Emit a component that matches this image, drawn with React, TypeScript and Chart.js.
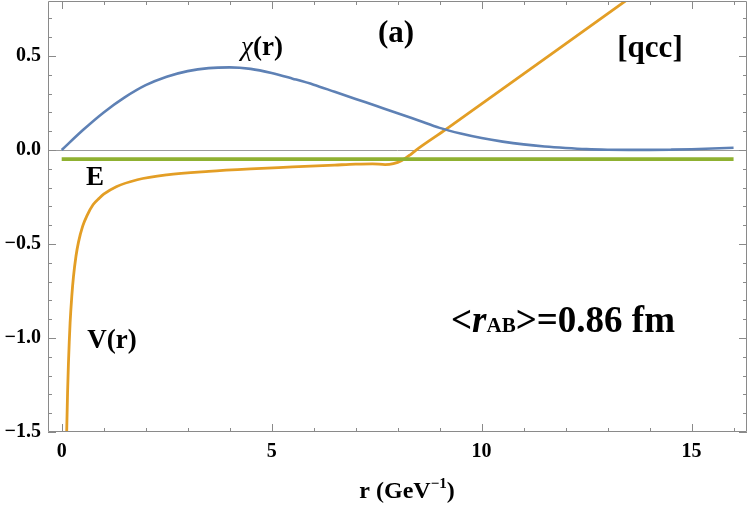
import React, { useEffect, useRef } from 'react';
import { Chart, registerables } from 'chart.js';

Chart.register(...registerables);

// chi(r) wave function
const CHI_R = [0, 0.5, 1, 1.5, 2, 2.5, 3, 3.5, 4, 4.5, 5, 5.5, 6, 6.5, 7, 7.5, 8, 8.5, 9, 9.5, 10, 10.5, 11, 11.5, 12, 12.5, 13, 13.5, 14, 14.5, 15, 15.5, 16];
const CHI_VAL = [0, 0.105, 0.2, 0.28, 0.345, 0.39, 0.42, 0.436, 0.44, 0.432, 0.41, 0.38, 0.348, 0.31, 0.272, 0.234, 0.196, 0.157, 0.118, 0.088, 0.064, 0.045, 0.03, 0.019, 0.011, 0.005, 0.002, 0.001, 0.001, 0.002, 0.004, 0.008, 0.012];

// V(r) potential
const V_R = [0.11, 0.12, 0.14, 0.16, 0.18, 0.2, 0.24, 0.28, 0.34, 0.4, 0.5, 0.6, 0.75, 0.9, 1.0, 1.3, 1.8, 2.5, 3.5, 4.5, 5.5, 6.5, 7.0, 7.4, 7.7, 7.9, 8.1, 8.3, 8.44, 9.15, 10.1, 13.5, 14];
const V_VAL = [-1.6, -1.49, -1.29, -1.14, -1.02, -0.92, -0.78, -0.675, -0.565, -0.49, -0.405, -0.35, -0.29, -0.255, -0.235, -0.195, -0.158, -0.132, -0.113, -0.1, -0.09, -0.08, -0.075, -0.073, -0.077, -0.072, -0.055, -0.025, 0, 0.11, 0.262, 0.805, 0.885];

// energy level E
const E_R = [0, 16];
const E_VAL = [-0.048, -0.048];

const X_MAJOR = [0, 5, 10, 15];
const X_MINOR = [0, 1, 2, 3, 4, 5, 6, 7, 8, 9, 10, 11, 12, 13, 14, 15, 16];
const Y_MAJOR = [-1.5, -1.0, -0.5, 0.0, 0.5];
const Y_MINOR = [-1.5, -1.4, -1.3, -1.2, -1.1, -1.0, -0.9, -0.8, -0.7, -0.6, -0.5, -0.4, -0.3, -0.2, -0.1, 0.0, 0.1, 0.2, 0.3, 0.4, 0.5, 0.6, 0.7];

const X_MIN = -0.326;
const X_MAX = 16.32;
const Y_MIN = -1.5;
const Y_MAX = 0.793;

const SERIF = '"Liberation Serif", "DejaVu Serif", serif';
const FRAME = '#8a8a8a';

const toPts = (xs: number[], ys: number[]) => xs.map((x, i) => ({ x, y: ys[i] }));

const framePlugin = {
  id: 'frameTicks',
  afterDatasetsDraw(chart: any) {
    const { ctx, chartArea: a, scales } = chart;
    const xs = scales.x;
    const ys = scales.y;
    ctx.save();
    ctx.strokeStyle = FRAME;
    ctx.lineWidth = 1;
    ctx.beginPath();
    ctx.rect(Math.round(a.left) + 0.5, Math.round(a.top) + 0.5, Math.round(a.right - a.left) - 1, Math.round(a.bottom - a.top) - 1);
    ctx.stroke();
    ctx.beginPath();
    X_MINOR.forEach((v) => {
      const px = Math.round(xs.getPixelForValue(v)) + 0.5;
      const len = X_MAJOR.includes(v) ? 8 : 4;
      ctx.moveTo(px, a.bottom);
      ctx.lineTo(px, a.bottom - len);
      ctx.moveTo(px, a.top);
      ctx.lineTo(px, a.top + len);
    });
    Y_MINOR.forEach((v) => {
      const py = Math.round(ys.getPixelForValue(v)) + 0.5;
      const len = Y_MAJOR.some((m) => Math.abs(m - v) < 1e-9) ? 8 : 4;
      ctx.moveTo(a.left, py);
      ctx.lineTo(a.left + len, py);
      ctx.moveTo(a.right, py);
      ctx.lineTo(a.right - len, py);
    });
    ctx.stroke();
    ctx.restore();
  },
};

const textPlugin = {
  id: 'annotations',
  afterDraw(chart: any) {
    const { ctx } = chart;
    ctx.save();
    ctx.fillStyle = '#000';
    ctx.textBaseline = 'alphabetic';

    const seq = (parts: { t: string; f: string; dy?: number }[], cx: number, by: number) => {
      let w = 0;
      parts.forEach((p) => { ctx.font = p.f; w += ctx.measureText(p.t).width; });
      let x = cx - w / 2;
      ctx.textAlign = 'left';
      parts.forEach((p) => {
        ctx.font = p.f;
        ctx.fillText(p.t, x, by + (p.dy || 0));
        x += ctx.measureText(p.t).width;
      });
    };

    seq([{ t: '(a)', f: `bold 31px ${SERIF}` }], 396, 42);
    seq([{ t: '[qcc]', f: `bold 31px ${SERIF}` }], 650, 57);
    seq([
      { t: 'χ', f: `italic 27px ${SERIF}` },
      { t: '(r)', f: `bold 27px ${SERIF}` },
    ], 262, 55);
    seq([{ t: 'E', f: `bold 27px ${SERIF}` }], 95, 185);
    seq([{ t: 'V(r)', f: `bold 27px ${SERIF}` }], 112, 348);
    seq([
      { t: '<', f: `bold 37px ${SERIF}` },
      { t: 'r', f: `italic bold 37px ${SERIF}` },
      { t: 'AB', f: `bold 21px ${SERIF}` },
      { t: '>=0.86 fm', f: `bold 37px ${SERIF}` },
    ], 563, 332);
    seq([
      { t: 'r (GeV', f: `bold 24px ${SERIF}` },
      { t: '−1', f: `bold 15px ${SERIF}`, dy: -10 },
      { t: ')', f: `bold 24px ${SERIF}` },
    ], 407, 498);
    ctx.restore();
  },
};

export default function App() {
  const ref = useRef<HTMLCanvasElement | null>(null);

  useEffect(() => {
    document.body.style.margin = '0';
    if (!ref.current) return;
    const chart = new Chart(ref.current, {
      type: 'line',
      data: {
        datasets: [
          {
            label: 'chi(r)',
            data: toPts(CHI_R, CHI_VAL),
            borderColor: '#5E81B5',
            borderWidth: 2.6,
            pointRadius: 0,
            cubicInterpolationMode: 'monotone',
            fill: false,
          },
          {
            label: 'E',
            data: toPts(E_R, E_VAL),
            borderColor: '#8FB131',
            borderWidth: 3.6,
            pointRadius: 0,
            fill: false,
          },
          {
            label: 'V(r)',
            data: toPts(V_R, V_VAL),
            borderColor: '#E39E25',
            borderWidth: 2.8,
            pointRadius: 0,
            cubicInterpolationMode: 'monotone',
            fill: false,
          },
        ],
      },
      options: {
        animation: false,
        responsive: false,
        devicePixelRatio: 1,
        parsing: false as any,
        layout: { padding: { top: 1, right: 3, left: 0, bottom: 0 } },
        plugins: {
          legend: { display: false },
          tooltip: { enabled: false },
          title: { display: false },
        },
        scales: {
          x: {
            type: 'linear',
            min: X_MIN,
            max: X_MAX,
            afterBuildTicks: (s: any) => { s.ticks = X_MAJOR.map((v) => ({ value: v })); },
            afterFit: (s: any) => { s.height = 77; s.paddingLeft = 0; s.paddingRight = 0; },
            grid: { display: false, drawTicks: false },
            border: { display: false },
            ticks: {
              padding: 8,
              color: '#000',
              font: { family: SERIF, weight: 'bold', size: 20 },
              callback: (v: any) => String(v),
              maxRotation: 0,
            },
          },
          y: {
            type: 'linear',
            min: Y_MIN,
            max: Y_MAX,
            afterBuildTicks: (s: any) => { s.ticks = Y_MAJOR.map((v) => ({ value: v })); },
            afterFit: (s: any) => { s.width = 48; s.paddingTop = 0; s.paddingBottom = 0; },
            grid: {
              drawTicks: false,
              color: (c: any) => (c.tick && Math.abs(c.tick.value) < 1e-9 ? '#9a9a9a' : 'rgba(0,0,0,0)'),
              lineWidth: 1,
            },
            border: { display: false },
            ticks: {
              padding: 7,
              color: '#000',
              font: { family: SERIF, weight: 'bold', size: 20 },
              callback: (v: any) => Number(v).toFixed(1).replace('-', '−'),
            },
          },
        },
      },
      plugins: [framePlugin, textPlugin],
    } as any);
    return () => chart.destroy();
  }, []);

  return (
    <div style={{ width: 750, height: 509 }}>
      <canvas ref={ref} width={750} height={509} style={{ display: 'block' }} />
    </div>
  );
}
